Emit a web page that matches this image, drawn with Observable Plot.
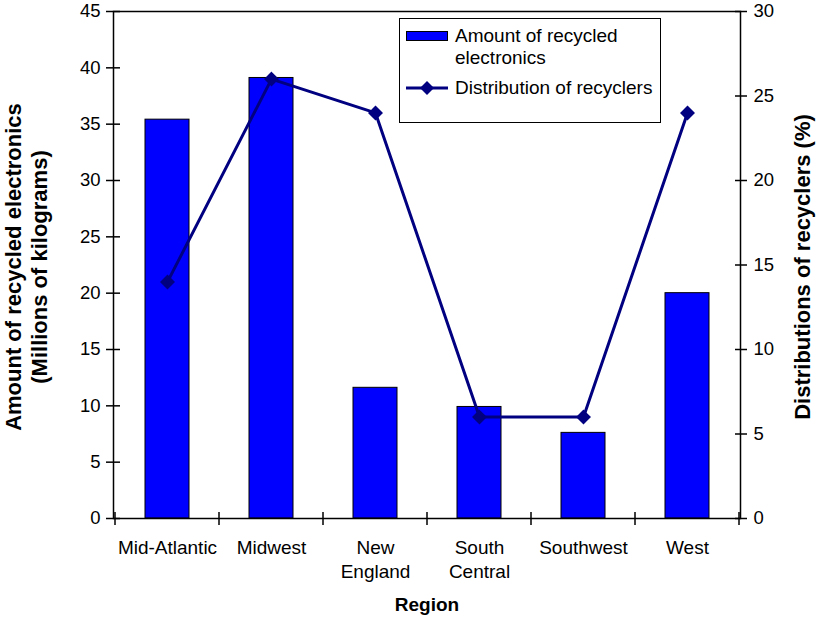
<!DOCTYPE html>
<html>
<head>
<meta charset="utf-8">
<script src="https://cdn.jsdelivr.net/npm/d3@7"></script>
<script src="https://cdn.jsdelivr.net/npm/@observablehq/plot@0.6"></script>
<style>
  html, body { margin: 0; padding: 0; background: #fff; }
  #wrap { position: relative; width: 818px; height: 618px; font-family: "Liberation Sans", Arial, sans-serif; }
  #legend { position: absolute; left: 399px; top: 18px; width: 262px; height: 105px; border: 1.5px solid #000; background: #fff; box-sizing: border-box; font-size: 19px; color: #000; }
  .row { position: absolute; left: 6px; display: flex; align-items: flex-start; }
  .sw { width: 42px; height: 10px; background: #0000ff; border: 1px solid #000; box-sizing: border-box; margin-top: 6px; margin-right: 7px; flex: none; }
  .ln { position: relative; width: 42px; height: 20px; margin-right: 7px; flex: none; }
</style>
</head>
<body>
<div id="wrap"></div>
<script>
const regions = ["Mid-Atlantic", "Midwest", "New England", "South Central", "Southwest", "West"];
const regionLabels = ["Mid-Atlantic", "Midwest", "New\nEngland", "South\nCentral", "Southwest", "West"];
const amount = [35.4, 39.1, 11.6, 9.9, 7.6, 20.0];        // millions of kg (left axis)
const distribution = [14, 26, 24, 6, 6, 24];              // % (right axis)
const leftTicks = [0, 5, 10, 15, 20, 25, 30, 35, 40, 45];
const rightTicks = [0, 5, 10, 15, 20, 25, 30];
const leftMax = 45, rightMax = 30;
const ratio = leftMax / rightMax;

const barColor = "#0000ff";
const lineColor = "#000080";

const data = regions.map((r, i) => ({region: r, amount: amount[i], pct: distribution[i]}));
const labelOf = new Map(regions.map((r, i) => [r, regionLabels[i]]));

const chart = Plot.plot({
  width: 818,
  height: 618,
  marginLeft: 113,
  marginRight: 78,
  marginTop: 11,
  marginBottom: 100,
  style: {fontFamily: '"Liberation Sans", Arial, sans-serif', fontSize: "18px", color: "#000", background: "#fff", overflow: "visible"},
  x: {domain: regions, paddingInner: 0.58, paddingOuter: 0.29, label: null},
  y: {domain: [0, leftMax], label: null},
  marks: [
    Plot.barY(data, {x: "region", y: "amount", fill: barColor, stroke: "#000", strokeWidth: 1}),
    Plot.line(data, {x: "region", y: d => d.pct * ratio, stroke: lineColor, strokeWidth: 3}),
    Plot.dot(data, {x: "region", y: d => d.pct * ratio, symbol: "diamond2", r: 5.8, fill: lineColor, stroke: lineColor}),
    Plot.frame({stroke: "#000", strokeWidth: 1.5}),
    // left axis: crossing ticks + labels
    Plot.axisY({anchor: "left", ticks: leftTicks, tickSize: 14, dx: 7, tickFormat: () => "", label: null, strokeWidth: 1.5}),
    Plot.axisY({anchor: "left", ticks: leftTicks, tickSize: 0, tickPadding: 13, label: null, fontSize: 18.5}),
    // right axis (scaled)
    Plot.axisY({anchor: "right", ticks: rightTicks.map(v => v * ratio), tickSize: 12, dx: -6, tickFormat: () => "", label: null, strokeWidth: 1.5}),
    Plot.axisY({anchor: "right", ticks: rightTicks.map(v => v * ratio), tickSize: 0, tickPadding: 13, tickFormat: d => String(Math.round(d / ratio)), label: null, fontSize: 18.5}),
    // x labels
    Plot.axisX({anchor: "bottom", tickSize: 0, tickPadding: 19, tickFormat: d => labelOf.get(d), label: null, fontSize: 19, lineHeight: 1.25}),
    // axis titles
    Plot.text(["Amount of recycled electronics"], {frameAnchor: "left", textAnchor: "middle", rotate: -90, dx: -100, dy: 2, fontWeight: "bold", fontSize: 22}),
    Plot.text(["(Millions of kilograms)"], {frameAnchor: "left", textAnchor: "middle", rotate: -90, dx: -74, dy: 2, fontWeight: "bold", fontSize: 22}),
    Plot.text(["Distributions of recyclers (%)"], {frameAnchor: "right", textAnchor: "middle", rotate: -90, dx: 62, dy: 2, fontWeight: "bold", fontSize: 22}),
    Plot.text(["Region"], {frameAnchor: "bottom", dy: 92, fontWeight: "bold", fontSize: 19})
  ]
});

// x-axis ticks at category boundaries, from the band scale
const xs = chart.scale("x");
const ys = chart.scale("y");
const gap = (xs.step - xs.bandwidth) / 2;
const bounds = regions.map(r => xs.apply(r) - gap);
bounds.push(xs.apply(regions[regions.length - 1]) + xs.bandwidth + gap);
const y0 = ys.apply(0);
d3.select(chart).append("g")
  .attr("stroke", "#000").attr("stroke-width", 1.5)
  .selectAll("line").data(bounds).join("line")
  .attr("x1", d => d).attr("x2", d => d)
  .attr("y1", y0 - 6).attr("y2", y0 + 7);

const wrap = document.getElementById("wrap");
wrap.appendChild(chart);

// legend
const legend = document.createElement("div");
legend.id = "legend";
legend.innerHTML = `
  <div class="row" style="top:6px"><div class="sw"></div><div style="line-height:22px">Amount of recycled<br>electronics</div></div>
  <div class="row" style="top:59px"><svg class="ln" width="42" height="20"><line x1="0" x2="42" y1="10" y2="10" stroke="${lineColor}" stroke-width="3"/><path d="M21,3 L28,10 L21,17 L14,10 Z" fill="${lineColor}"/></svg><div style="line-height:20px">Distribution of recyclers</div></div>`;
wrap.appendChild(legend);
</script>
</body>
</html>
